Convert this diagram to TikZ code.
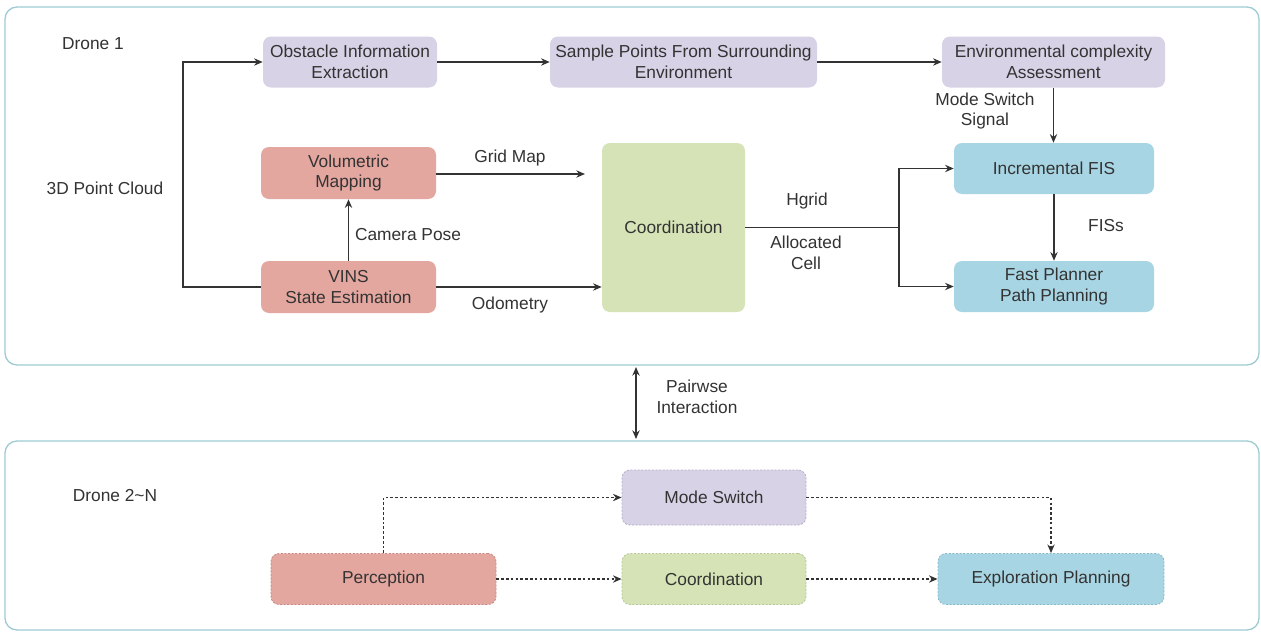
\documentclass[tikz,border=0pt]{standalone}
\usepackage{fontspec}
\setmainfont{Liberation Sans}
\usetikzlibrary{arrows.meta}
\definecolor{frame}{HTML}{9FCBD3}
\definecolor{lav}{HTML}{D8D2E6}
\definecolor{lavd}{HTML}{B8AECB}
\definecolor{sal}{HTML}{E4A7A0}
\definecolor{sald}{HTML}{C98A84}
\definecolor{grn}{HTML}{D5E3B6}
\definecolor{grnd}{HTML}{B5C796}
\definecolor{blu}{HTML}{A8D5E3}
\definecolor{blud}{HTML}{86B8C8}
\definecolor{txt}{HTML}{333333}
\tikzset{
  base/.style={rounded corners=6pt, align=center, text=txt, inner sep=2pt,
    font=\fontsize{13}{15.5}\selectfont},
  boxL/.style={base, fill=lav, draw=none},
  boxS/.style={base, fill=sal, draw=none},
  boxG/.style={base, fill=grn, draw=none},
  boxB/.style={base, fill=blu, draw=none},
  dbox/.style={dash pattern=on 1.5pt off 1.2pt, line width=0.6pt},
  lbl/.style={text=txt, align=center, font=\fontsize{13}{15.5}\selectfont},
  conn/.style={draw=txt, line width=0.95pt, -{Stealth[length=6.5pt,width=5.5pt]}},
  dconn/.style={conn, dash pattern=on 2pt off 1.6pt},
  region/.style={draw=frame, line width=1pt, rounded corners=9pt},
}
\begin{document}
\begin{tikzpicture}[x=0.75pt,y=-0.75pt]
\useasboundingbox (0,0) rectangle (1261,632);
\fill[white] (0,0) rectangle (1261,632);
% regions
\draw[region] (5,7) rectangle (1259,365);
\draw[region] (5,441) rectangle (1259,630);

% top nodes
\node[boxL, minimum width=130.5pt, minimum height=38.25pt] (obs) at (350,62) {Obstacle Information\\Extraction};
\node[boxL, minimum width=200.25pt, minimum height=38.25pt] (samp) at (683.5,62) {Sample Points From Surrounding\\Environment};
\node[boxL, minimum width=167.25pt, minimum height=38.25pt] (env) at (1053.5,62) {Environmental complexity\\Assessment};
\node[boxS, minimum width=131.25pt, minimum height=39pt] (vol) at (348.5,173) {Volumetric\\Mapping};
\node[boxS, minimum width=131.25pt, minimum height=39pt] (vins) at (348.5,287) {VINS\\State Estimation};
\node[boxG, minimum width=107.25pt, minimum height=126.75pt] (coord) at (673.5,227.5) {Coordination};
\node[boxB, minimum width=150pt, minimum height=38.25pt] (inc) at (1054,168.5) {Incremental FIS};
\node[boxB, minimum width=150pt, minimum height=38.25pt] (fast) at (1054,286.5) {Fast Planner\\Path Planning};

% labels top
\node[lbl] (d1) at (93,44) {Drone 1};
\node[lbl] (pc) at (105,188) {3D Point Cloud};
\node[lbl] (gm) at (510,158) {Grid Map};
\node[lbl] (cp) at (408,235) {Camera Pose};
\node[lbl] (od) at (510,305) {Odometry};
\node[lbl] (hg) at (807,201) {Hgrid};
\node[lbl] (ac) at (806,253) {Allocated\\Cell};
\node[lbl] (ms) at (985,111) {Mode Switch\\Signal};
\node[lbl] (fis) at (1106,226) {FISs};

% top connectors
\coordinate (gmEnd) at (585,174);
\coordinate (split) at (899,227.5);
\draw[conn] (vins.west) -- (183,287) |- (obs.west);
\draw[conn] (obs) -- (samp);
\draw[conn] (samp) -- (env);
\draw[conn] (env.south) -- (env.south |- inc.north);
\draw[conn] (vins) -- (vol);
\draw[conn] (vol.east |- gmEnd) -- (gmEnd);
\draw[conn] (vins.east) -- (coord.west |- vins.east);
\draw[draw=txt, line width=0.95pt] (coord.east) -- (split);
\draw[conn] (split) |- (inc.west);
\draw[conn] (split) |- (fast.west);
\draw[conn] (inc) -- (fast);

% pairwise
\coordinate (pwA) at (636,367);
\coordinate (pwB) at (636,439);
\draw[draw=txt, line width=0.95pt, {Stealth[length=6.5pt,width=5.5pt]}-{Stealth[length=6.5pt,width=5.5pt]}] (pwA) -- (pwB);
\node[lbl] (pw) at (697,397) {Pairwse\\Interaction};

% bottom
\node[lbl] (d2) at (115,496) {Drone 2\textasciitilde N};
\node[boxL, dbox, draw=lavd, minimum width=138pt, minimum height=41.25pt] (mode) at (714,497.5) {Mode Switch};
\node[boxS, dbox, draw=sald, minimum width=168.75pt, minimum height=38.25pt] (perc) at (383.5,579) {Perception};
\node[boxG, dbox, draw=grnd, minimum width=138pt, minimum height=38.25pt] (coord2) at (714,579) {Coordination};
\node[boxB, dbox, draw=blud, minimum width=169.5pt, minimum height=38.25pt] (expl) at (1051,579) {Exploration Planning};

\draw[dconn] (perc.north) |- (mode.west);
\draw[dconn] (perc) -- (coord2);
\draw[dconn] (coord2) -- (expl);
\draw[dconn] (mode.east) -| (expl.north);
\end{tikzpicture}
\end{document}
